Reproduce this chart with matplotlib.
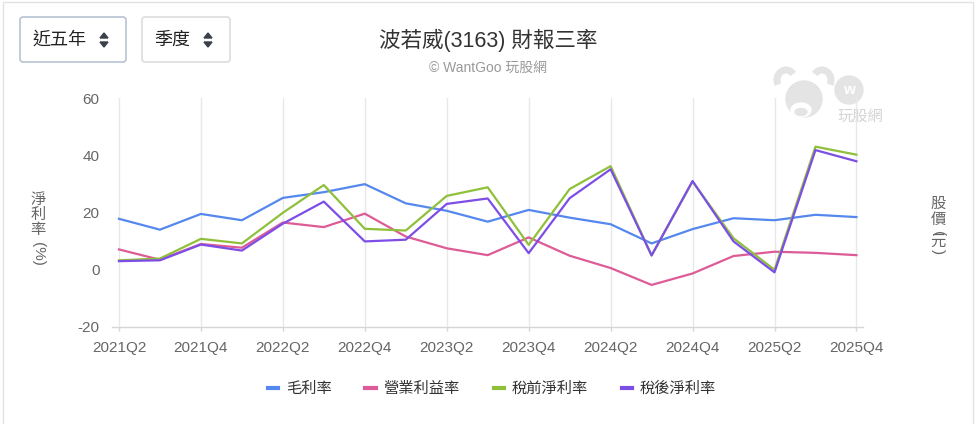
import matplotlib
matplotlib.use("Agg")
import matplotlib.pyplot as plt
from matplotlib.lines import Line2D
from matplotlib.patches import FancyBboxPatch, Rectangle, Circle, Arc, Ellipse, Polygon

plt.rcParams['font.family'] = ['Liberation Sans', 'Noto Sans CJK TC', 'DejaVu Sans']

quarters = ["2021Q2", "2021Q3", "2021Q4", "2022Q1", "2022Q2", "2022Q3", "2022Q4",
            "2023Q1", "2023Q2", "2023Q3", "2023Q4", "2024Q1", "2024Q2", "2024Q3",
            "2024Q4", "2025Q1", "2025Q2", "2025Q3", "2025Q4"]
gross_margin = [17.8, 14.0, 19.5, 17.3, 25.1, 27.1, 29.9, 23.2, 20.6, 16.8, 20.9,
                18.2, 15.9, 9.2, 14.2, 18.0, 17.3, 19.2, 18.4]
operating_margin = [7.1, 3.5, 9.0, 7.7, 16.5, 14.9, 19.6, 11.6, 7.5, 5.1, 11.3,
                    4.9, 0.6, -5.3, -1.3, 4.8, 6.3, 5.9, 5.1]
pretax_margin = [3.3, 3.9, 10.8, 9.2, 19.9, 29.6, 14.3, 13.7, 25.8, 28.8, 8.7,
                 28.2, 36.2, 5.0, 30.8, 11.0, 0.0, 43.0, 40.2]
net_margin = [3.0, 3.3, 8.8, 6.7, 16.1, 23.8, 9.9, 10.5, 23.0, 24.9, 5.8,
              25.0, 35.1, 5.0, 31.0, 9.9, -0.9, 41.8, 37.9]
series_names = ["毛利率", "營業利益率", "稅前淨利率", "稅後淨利率"]
series_colors = ["#5588ee", "#dd5c97", "#8fc03c", "#7d4ee6"]
y_ticks = [-20, 0, 20, 40, 60]

W, H = 978, 424
fig = plt.figure(figsize=(W / 100, H / 100), dpi=100)

def fx(px):
    return px / W

def fy(py):
    return 1 - py / H

# decoration layer in pixel coordinates
deco = fig.add_axes([0, 0, 1, 1], zorder=0)
deco.set_xlim(0, W)
deco.set_ylim(H, 0)
deco.axis("off")

# page frame
deco.add_patch(Rectangle((3, 2), 970, 440, fill=False, edgecolor="#e3e3e3", linewidth=1))

# main chart
ax = fig.add_axes([fx(112), fy(327), fx(863 - 112), fy(98) - fy(327)], zorder=2)
ax.patch.set_alpha(0)
x = list(range(len(quarters)))
for vals, name, col in zip([gross_margin, operating_margin, pretax_margin, net_margin],
                           series_names, series_colors):
    ax.plot(x, vals, color=col, linewidth=1.6, label=name, zorder=3)

ax.set_xlim(-0.17, len(quarters) - 1 + 0.16)
ax.set_ylim(-20, 60)
ax.set_yticks(y_ticks)
ax.set_yticklabels([str(v) for v in y_ticks])
ax.set_xticks(x[::2])
ax.set_xticklabels(quarters[::2])
ax.grid(axis="x", color="#e8e8e8", linewidth=1)
ax.set_axisbelow(True)
for s in ["top", "right", "left"]:
    ax.spines[s].set_visible(False)
ax.spines["bottom"].set_color("#d6d6d6")
ax.spines["bottom"].set_linewidth(1)
ax.tick_params(axis="x", length=3, width=1, color="#d6d6d6", pad=7, labelsize=11, labelcolor="#666666")
ax.tick_params(axis="y", length=0, pad=9, labelsize=11, labelcolor="#666666")

# titles
deco.text(488, 40, "波若威(3163) 財報三率", ha="center", va="center", fontsize=15.5, color="#333333")
deco.text(488, 68, "© WantGoo 玩股網", ha="center", va="center", fontsize=10, color="#999999")

# axis titles (vertical writing)
lc = "#666666"
for ch, py in zip("淨利率", [200, 215, 230]):
    deco.text(38, py, ch, ha="center", va="center", fontsize=11, color=lc)
deco.text(38, 254, "(%)", ha="center", va="center", fontsize=11, color=lc, rotation=-90)
for ch, py in zip("股價", [204, 220]):
    deco.text(938, py, ch, ha="center", va="center", fontsize=11, color=lc)
deco.text(938, 234, "(", ha="center", va="center", fontsize=11, color=lc, rotation=-90)
deco.text(938, 242, "元", ha="center", va="center", fontsize=11, color=lc)
deco.text(938, 252, ")", ha="center", va="center", fontsize=11, color=lc, rotation=-90)

# dropdown buttons
def button(x0, x1, label, edge, tx):
    deco.add_patch(FancyBboxPatch((x0, 17), x1 - x0, 45, boxstyle="round,pad=0,rounding_size=3",
                                  facecolor="white", edgecolor=edge, linewidth=1.2))
    deco.text(tx, 40, label, ha="left", va="center", fontsize=13, color="#222222")
    ax_ = x1 - 22
    deco.add_patch(Polygon([[ax_ - 4, 38], [ax_ + 4, 38], [ax_, 33]], color="#3a3f4a"))
    deco.add_patch(Polygon([[ax_ - 4, 42], [ax_ + 4, 42], [ax_, 47]], color="#3a3f4a"))

button(20, 126, "近五年", "#b7c3d3", 33)
button(142, 230, "季度", "#dddddd", 154)

# watermark logo (bull head with speech bubble)
wm = "#e4e4e4"
deco.add_patch(Circle((804, 99), 18, color=wm))
deco.add_patch(Arc((786, 80), 18, 20, theta1=150, theta2=320, color=wm, linewidth=5))
deco.add_patch(Arc((822, 80), 18, 20, theta1=220, theta2=30, color=wm, linewidth=5))
deco.add_patch(Ellipse((801, 110), 20, 14, color="white"))
deco.add_patch(Ellipse((801, 112), 12, 7, color=wm))
deco.add_patch(Circle((849, 90), 14, color=wm))
deco.text(849, 90, "w", ha="center", va="center", fontsize=11, color="white", fontweight="bold")
deco.text(860, 117, "玩股網", ha="center", va="center", fontsize=11, color="#d4d4d4")

# legend
handles = [Line2D([0], [0], color=c, linewidth=3) for c in series_colors]
fig.legend(handles, series_names, loc="center", bbox_to_anchor=(fx(492), fy(389)), ncol=4,
           frameon=False, fontsize=11, handlelength=0.7, handletextpad=0.5,
           columnspacing=2.2, labelcolor="#333333")

fig.savefig("out.png", dpi=100)
